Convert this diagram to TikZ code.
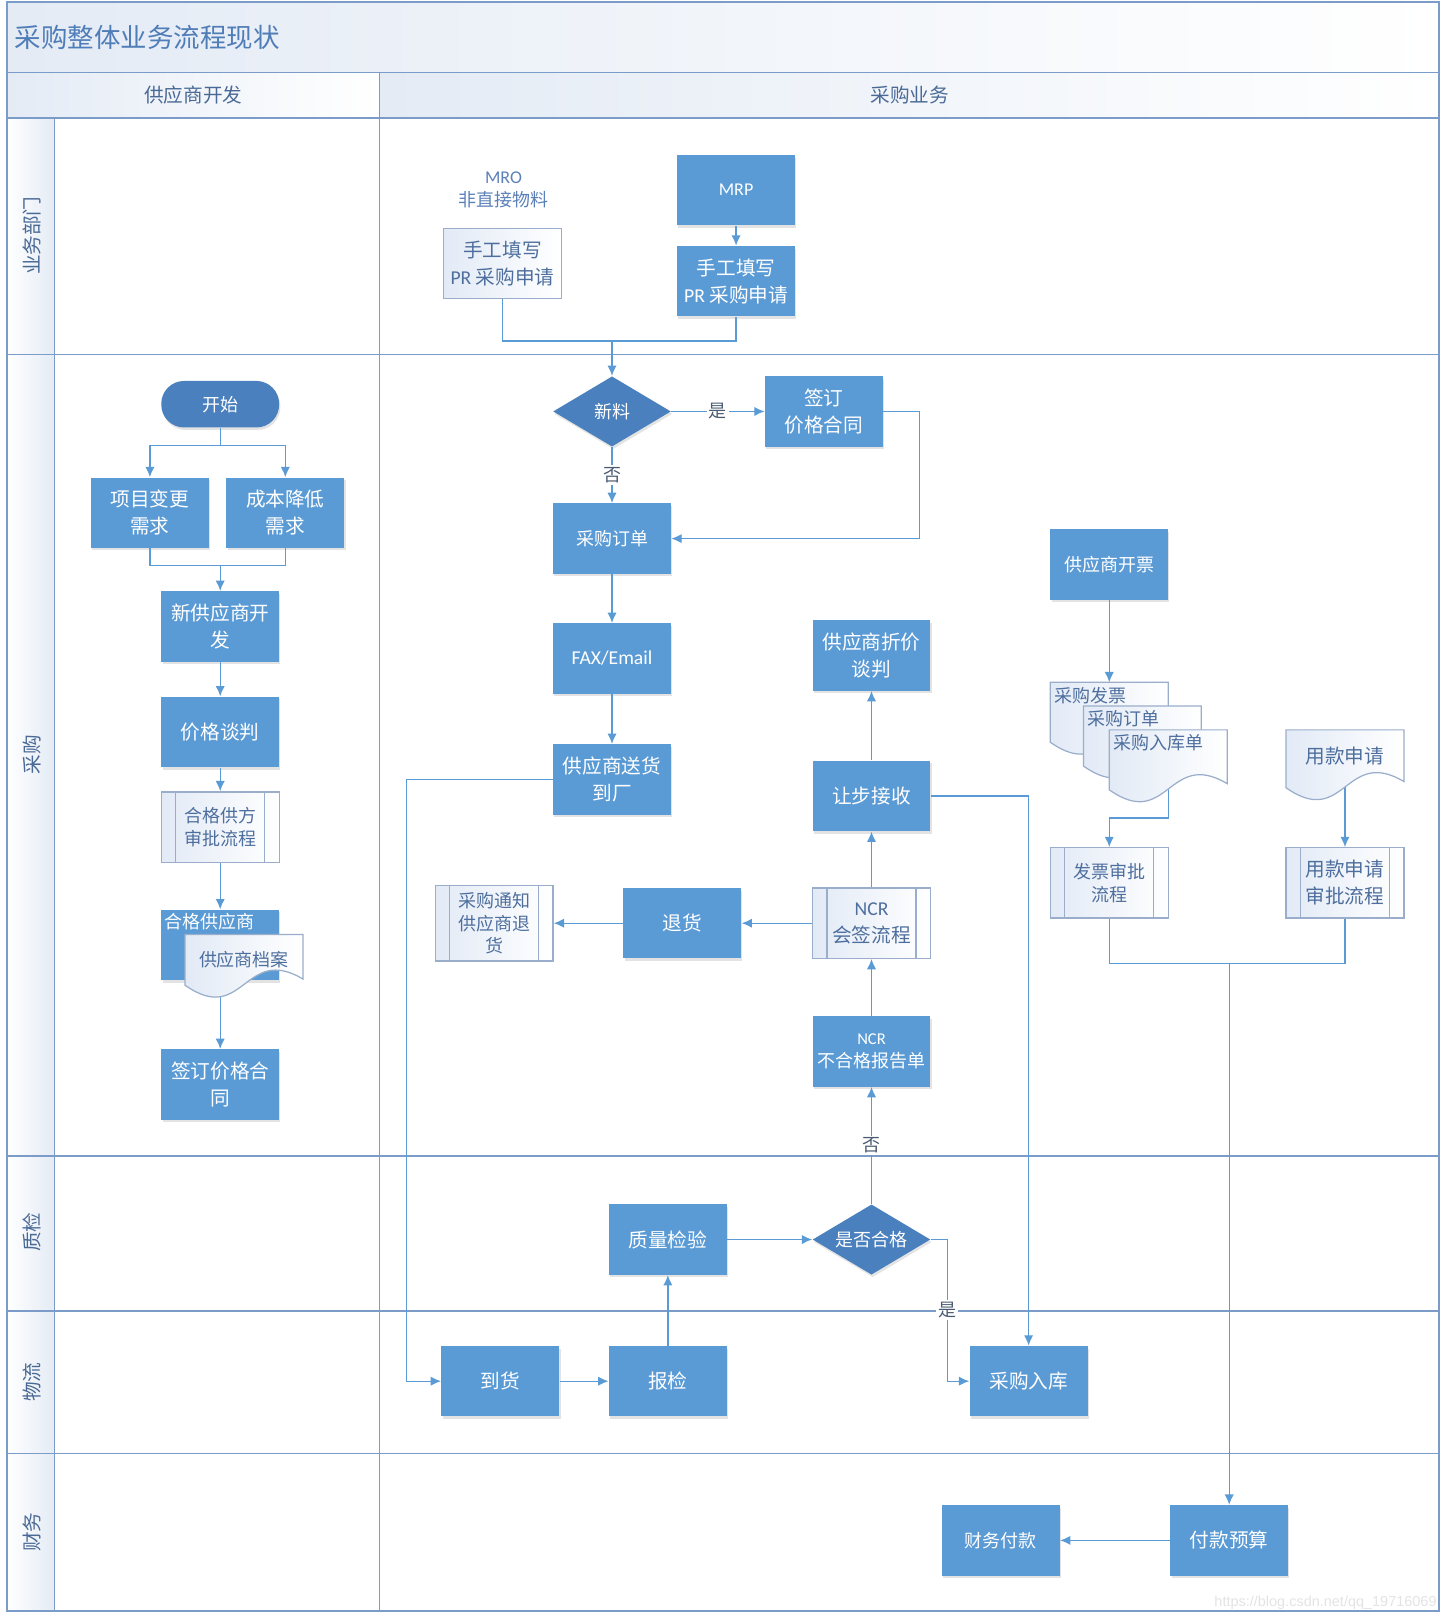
\documentclass[tikz,border=0pt]{standalone}
\usepackage{fontspec}
\setmainfont{Noto Sans CJK SC}
\newfontfamily\lat{Carlito}
\newfontfamily\wmfont{Liberation Sans}
\usetikzlibrary{shapes.geometric,arrows.meta,shadows,calc}
\definecolor{boxblue}{HTML}{5B9BD5}
\definecolor{darkblue}{HTML}{4A80BD}
\definecolor{lineblue}{HTML}{5B9BD5}
\definecolor{framec}{HTML}{7B9CC8}
\definecolor{wline}{HTML}{9AAECB}
\definecolor{wtext}{HTML}{4E6F9E}
\definecolor{docl}{HTML}{E2EAF6}
\definecolor{headbg}{HTML}{E4EBF5}
\definecolor{titlec}{HTML}{4F7DB8}
\definecolor{headtext}{HTML}{4A6A96}
\definecolor{mrotext}{HTML}{5B80B8}
\definecolor{lbltext}{HTML}{4A5A70}
\newcommand\fsA{\fontsize{9.5}{13}\selectfont}
\newcommand\fsB{\fontsize{8.7}{11}\selectfont}
\newcommand\mydoc[5]{\path[docst] (#1,#2) -- (#1,{#2+#4}) .. controls ({#1+0.5*#3},{#2+#4+#5}) and ({#1+0.5*#3},{#2+#4-#5}) .. ({#1+#3},{#2+#4-6}) -- ({#1+#3},#2) -- cycle;}
\tikzset{
  base/.style={align=center, inner sep=1pt, minimum width=57pt, minimum height=34pt},
  box/.style={base, fill=boxblue, text=white, font=\fsA,
    drop shadow={shadow xshift=0.6pt, shadow yshift=-1.2pt, opacity=0.22, fill=gray}},
  boxs/.style={box, font=\fsB},
  wbox/.style={base, draw=wline, line width=0.6pt, left color=docl, right color=white, text=wtext, font=\fsA},
  sub/.style={wbox, path picture={
      \draw[wline, line width=0.6pt]
        ([xshift=7pt]path picture bounding box.north west) -- ([xshift=7pt]path picture bounding box.south west)
        ([xshift=-7pt]path picture bounding box.north east) -- ([xshift=-7pt]path picture bounding box.south east);}},
  dia/.style={diamond, aspect=1.68, fill=darkblue, text=white, font=\fsB, inner sep=0pt,
    minimum width=57pt, minimum height=34pt,
    drop shadow={shadow xshift=0.6pt, shadow yshift=-1.2pt, opacity=0.22, fill=gray}},
  docst/.style={draw=wline, line width=0.6pt, left color=docl, right color=white},
  line/.style={draw=lineblue, line width=0.65pt},
  arr/.style={line, -{Latex[length=5pt,width=4.5pt]}},
  lbl/.style={fill=white, inner sep=1pt, font=\fsB, text=lbltext},
  lane/.style={rotate=90, font=\fsA, text=headtext},
}
\begin{document}
\begin{tikzpicture}[x=0.5pt,y=-0.5pt]
\useasboundingbox (0,0) rectangle (1399,1568);
% ---------- frame ----------
\shade[left color=headbg, right color=white] (7,2) rectangle (1392,70);
\shade[left color=headbg, right color=white] (7,70) rectangle (367,114);
\shade[left color=headbg, right color=white] (367,70) rectangle (1392,114);
\shade[left color=white, right color=headbg] (7,114) rectangle (53,1558);
\draw[framec, line width=0.6pt] (53,114) -- (53,1558) (367,70) -- (367,1558);
\draw[framec, line width=0.8pt] (7,70) -- (1392,70) (7,114) -- (1392,114)
  (7,343) -- (1392,343) (7,1118) -- (1392,1118) (7,1268) -- (1392,1268) (7,1406) -- (1392,1406);
\draw[framec, line width=0.8pt] (7,2) rectangle (1392,1558);
\node[anchor=west, inner sep=0pt, text=titlec, font=\fontsize{12.8}{15}\selectfont] (title) at (14,36) {采购整体业务流程现状};
\node[font=\fsA, text=headtext] (h1) at (187,92) {供应商开发};
\node[font=\fsA, text=headtext] (h2) at (880,92) {采购业务};
\node[lane] (l1) at (31,228) {业务部门};
\node[lane] (l2) at (31,730) {采购};
\node[lane] (l3) at (31,1192) {质检};
\node[lane] (l4) at (31,1337) {物流};
\node[lane] (l5) at (31,1482) {财务};
% ---------- business dept ----------
\node[font=\fsB, text=mrotext, align=center] (mrol) at (487,184) {{\lat MRO}\\非直接物料};
\node[wbox] (mro) at (486,255) {手工填写\\{\lat PR} 采购申请};
\node[box] (mrp) at (712,184) {\fsB\lat MRP};
\node[box] (pr) at (712,272) {手工填写\\{\lat PR} 采购申请};
% ---------- purchasing ----------
\node[dia] (xl) at (592,398) {新料};
\node[box] (qd) at (797,398) {签订\\价格合同};
\node[boxs] (po) at (592,521) {采购订单};
\node[box] (fax) at (592,637) {\lat FAX/Email};
\node[box] (song) at (592,754) {供应商送货\\到厂};
\node[box] (zjtp) at (843,634) {供应商折价\\谈判};
\node[box] (rbjs) at (843,770) {让步接收};
\node[sub] (ncr2) at (843,893) {{\lat NCR}\\会签流程};
\node[boxs] (ncr1) at (843,1017) {{\fontsize{8}{11}\selectfont\lat NCR}\\不合格报告单};
\node[box] (th) at (660,893) {退货};
\node[sub, font=\fsB, minimum height=36.5pt] (tz) at (478,893) {采购通知\\供应商退\\货};
\node[boxs] (kp) at (1073,546) {供应商开票};
\node[sub, font=\fsB] (fp) at (1073,854) {发票审批\\流程};
\node[sub] (ykp) at (1301,854) {用款申请\\审批流程};
% left column
\node[box, fill=darkblue, rounded corners=11pt, minimum height=22.5pt, font=\fsB] (start) at (213,391) {开始};
\node[box] (xm) at (145,496) {项目变更\\需求};
\node[box] (cb) at (276,496) {成本降低\\需求};
\node[box] (xg) at (213,606) {新供应商开\\发};
\node[box] (jg) at (213,708) {价格谈判};
\node[sub, font=\fsB] (hgsp) at (213,800) {合格供方\\审批流程};
\node[box] (hgs) at (213,914) {};
\node[anchor=north west, inner sep=1.5pt, text=white, font=\fsB] (hgst) at (hgs.north west) {合格供应商};
\node[box] (qdl) at (213,1049) {签订价格合\\同};
% ---------- QC / logistics / finance ----------
\node[box] (zljy) at (646,1199) {质量检验};
\node[dia] (hege) at (843,1199) {是否合格};
\node[box] (dh) at (484,1336) {到货};
\node[box] (bj) at (646,1336) {报检};
\node[box] (rk) at (995,1336) {采购入库};
\node[box] (ys) at (1189,1490) {付款预算};
\node[boxs] (cw) at (968,1490) {财务付款};
% ---------- connectors ----------
\draw[arr] (mrp) -- (pr);
\coordinate (j1) at (592,330);
\draw[line] (mro.south) |- (j1) -| (pr.south);
\draw[arr] (j1) -- (xl.north);
\draw[arr] (xl.east) -- node[lbl]{是} (qd.west);
\draw[arr] (qd.east) -- ++(35,0) |- (po.east);
\draw[arr] (xl.south) -- node[lbl]{否} (po.north);
\draw[arr] (po) -- (fax);
\draw[arr] (fax) -- (song);
\coordinate (c1) at (393,754);
\draw[arr] (song.west) -- (c1) |- (dh.west);
\draw[arr] (dh) -- (bj);
\draw[arr] (bj) -- (zljy);
\draw[arr] (zljy) -- (hege);
\draw[arr] (hege.east) -- ++(16,0) |- node[lbl,pos=0.25]{是} (rk.west);
\draw[arr] (hege.north) -- node[lbl]{否} (ncr1.south);
\draw[arr] (ncr1) -- (ncr2);
\draw[arr] (ncr2) -- (rbjs);
\draw[arr] (rbjs) -- (zjtp);
\draw[arr] (ncr2) -- (th);
\draw[arr] (th) -- (tz);
\draw[arr] (rbjs.east) -| (rk.north);
\coordinate (d1t) at (1073,660);
\draw[arr] (kp) -- (d1t);
\coordinate (d3b) at (1130,750);
\draw[arr] (d3b) |- ($(fp.north)+(0,-28)$) -| (fp.north);
\coordinate (ykb) at (1301,750);
\draw[arr] (ykb) -- (ykp.north);
\coordinate (j2) at (1189,932);
\draw[line] (fp.south) |- (j2) -| (ykp.south);
\draw[arr] (j2) -- (ys.north);
\draw[arr] (ys) -- (cw);
\coordinate (j3) at (213,431);
\draw[line] (start) -- (j3);
\draw[arr] (j3) -| (xm.north);
\draw[arr] (j3) -| (cb.north);
\coordinate (j4) at (213,547);
\draw[line] (xm.south) |- (j4) -| (cb.south);
\draw[arr] (j4) -- (xg);
\draw[arr] (xg) -- (jg);
\draw[arr] (jg) -- (hgsp);
\draw[arr] (hgsp) -- (hgs);
\coordinate (dab) at (213,945);
\draw[arr] (dab) -- (qdl);
% ---------- documents ----------
\mydoc{1016}{660}{114}{58}{40}
\mydoc{1048}{683}{114}{58}{40}
\mydoc{1073}{706}{114}{58}{40}
\mydoc{1244}{706}{114}{56}{40}
\mydoc{179}{904}{114}{49}{40}
\node[anchor=north west, inner sep=2pt, font=\fsB, text=wtext] (doc1) at (1016,660) {采购发票};
\node[anchor=north west, inner sep=2pt, font=\fsB, text=wtext] (doc2) at (1048,683) {采购订单};
\node[anchor=north west, inner sep=2pt, font=\fsB, text=wtext] (doc3) at (1073,706) {采购入库单};
\node[font=\fsA, text=wtext] (ykdoc) at (1301,731) {用款申请};
\node[font=\fsB, text=wtext] (dadoc) at (236,928) {供应商档案};
% watermark
\node[anchor=east, inner sep=0pt, text=gray!22, font=\wmfont\fontsize{7}{8}\selectfont] (wm) at (1390,1550) {https://blog.csdn.net/qq\_19716069};
\end{tikzpicture}
\end{document}
